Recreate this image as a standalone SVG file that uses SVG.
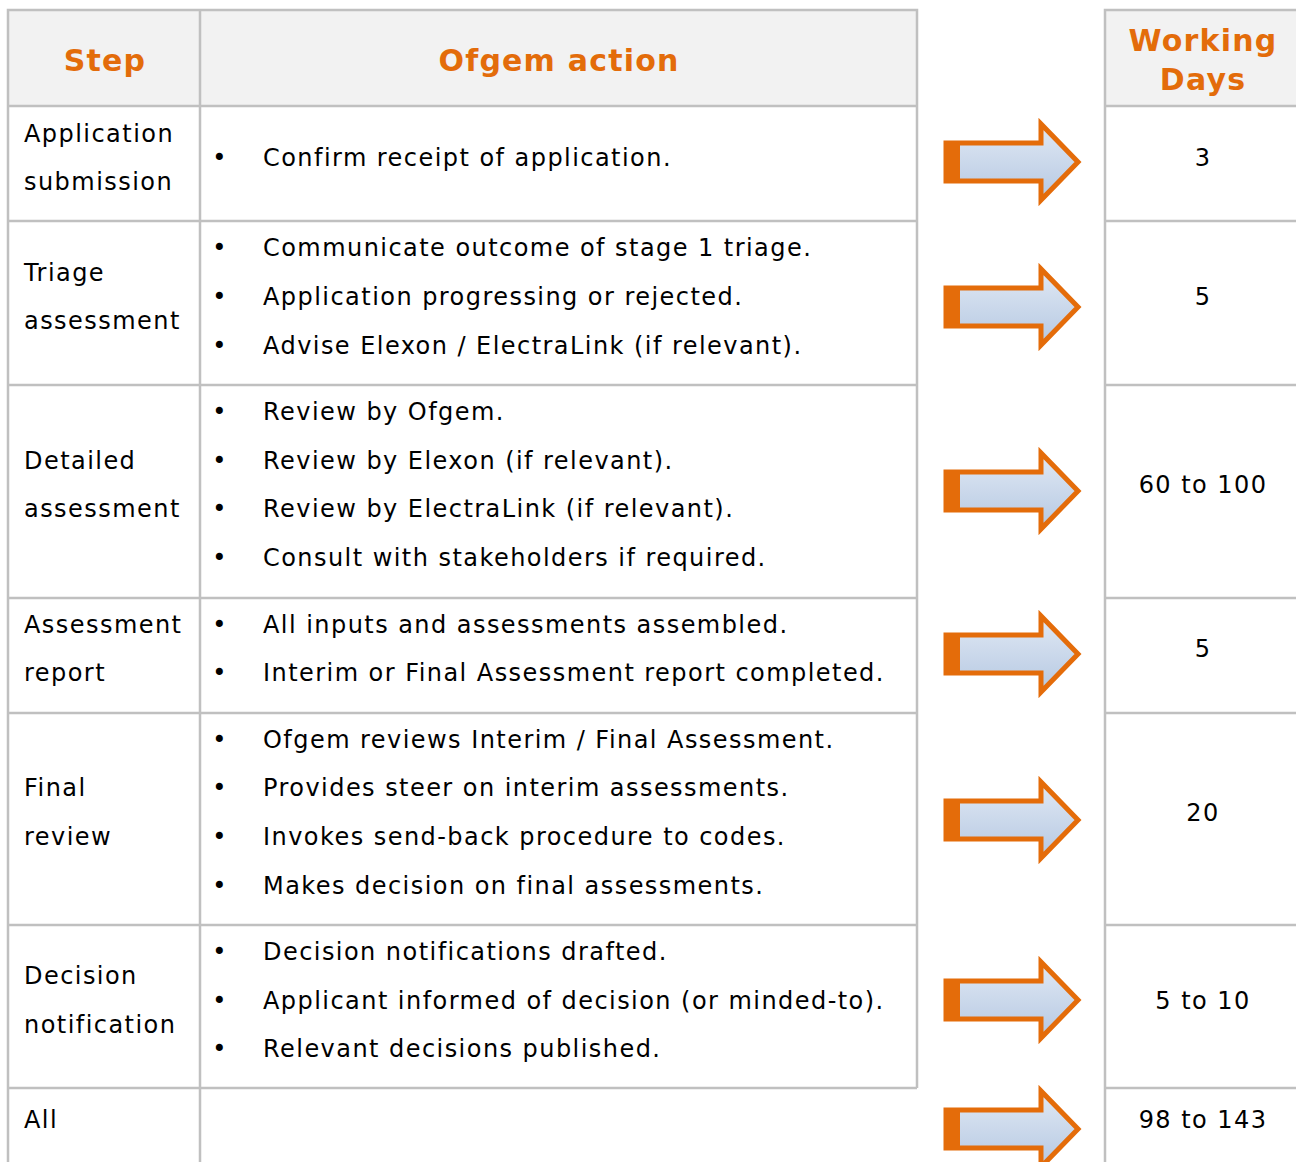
<svg xmlns="http://www.w3.org/2000/svg" width="1296" height="1162" viewBox="0 0 1296 1162">
<style>
.t{font-family:"DejaVu Sans","Liberation Sans",sans-serif;font-size:24px;letter-spacing:1.45px;fill:#000}
.h{font-family:"DejaVu Sans","Liberation Sans",sans-serif;font-size:30px;font-weight:bold;letter-spacing:1.2px;fill:#E36C0A}
.c{text-anchor:middle}
.ln{stroke:#c0c0c0;stroke-width:2.5;fill:none}
</style>
<defs>
<linearGradient id="g" x1="0" y1="0" x2="0" y2="1">
<stop offset="0" stop-color="#e1e9f4"/>
<stop offset="1" stop-color="#b5c8e2"/>
</linearGradient>
<g id="arr">
<path d="M946,-19 H1041 V-38 L1078,0 L1041,38 V19 H946 Z" fill="url(#g)" stroke="#E46C0A" stroke-width="5" stroke-linejoin="miter"/>
<rect x="945" y="-21" width="15" height="42" fill="#E46C0A"/>
</g>
</defs>
<rect width="1296" height="1162" fill="#fff"/>
<g id="header">
<rect x="8" y="10" width="909" height="96" fill="#f2f2f2"/>
<rect x="1105" y="10" width="195" height="96" fill="#f2f2f2"/>
<text class="h c" x="105" y="71">Step</text>
<text class="h c" x="559" y="71">Ofgem action</text>
<text class="h c" x="1203" y="51">Working</text>
<text class="h c" x="1203" y="90">Days</text>
</g>
<g id="grid">
<path class="ln" d="M8,1162 V10 H917 V1088 M200,10 V1162 M8,106 H917 M8,221 H917 M8,385 H917 M8,598 H917 M8,713 H917 M8,925 H917 M8,1088 H917"/>
<path class="ln" d="M1105,1162 V10 H1300 M1105,106 H1300 M1105,221 H1300 M1105,385 H1300 M1105,598 H1300 M1105,713 H1300 M1105,925 H1300 M1105,1088 H1300"/>
</g>
<g id="row1">
<text class="t" x="24" y="142">Application</text>
<text class="t" x="24" y="190">submission</text>
<text class="t c" x="220" y="166">•</text>
<text class="t" x="263" y="166">Confirm receipt of application.</text>
<text class="t c" x="1203" y="166">3</text>
</g>
<g id="row2">
<text class="t" x="24" y="281">Triage</text>
<text class="t" x="24" y="329">assessment</text>
<text class="t c" x="220" y="256">•</text>
<text class="t" x="263" y="256">Communicate outcome of stage 1 triage.</text>
<text class="t c" x="220" y="305">•</text>
<text class="t" x="263" y="305">Application progressing or rejected.</text>
<text class="t c" x="220" y="354">•</text>
<text class="t" x="263" y="354">Advise Elexon / ElectraLink (if relevant).</text>
<text class="t c" x="1203" y="305">5</text>
</g>
<g id="row3">
<text class="t" x="24" y="469">Detailed</text>
<text class="t" x="24" y="517">assessment</text>
<text class="t c" x="220" y="420">•</text>
<text class="t" x="263" y="420">Review by Ofgem.</text>
<text class="t c" x="220" y="469">•</text>
<text class="t" x="263" y="469">Review by Elexon (if relevant).</text>
<text class="t c" x="220" y="517">•</text>
<text class="t" x="263" y="517">Review by ElectraLink (if relevant).</text>
<text class="t c" x="220" y="566">•</text>
<text class="t" x="263" y="566">Consult with stakeholders if required.</text>
<text class="t c" x="1203" y="493">60 to 100</text>
</g>
<g id="row4">
<text class="t" x="24" y="633">Assessment</text>
<text class="t" x="24" y="681">report</text>
<text class="t c" x="220" y="633">•</text>
<text class="t" x="263" y="633">All inputs and assessments assembled.</text>
<text class="t c" x="220" y="681">•</text>
<text class="t" x="263" y="681">Interim or Final Assessment report completed.</text>
<text class="t c" x="1203" y="657">5</text>
</g>
<g id="row5">
<text class="t" x="24" y="796">Final</text>
<text class="t" x="24" y="845">review</text>
<text class="t c" x="220" y="748">•</text>
<text class="t" x="263" y="748">Ofgem reviews Interim / Final Assessment.</text>
<text class="t c" x="220" y="796">•</text>
<text class="t" x="263" y="796">Provides steer on interim assessments.</text>
<text class="t c" x="220" y="845">•</text>
<text class="t" x="263" y="845">Invokes send-back procedure to codes.</text>
<text class="t c" x="220" y="894">•</text>
<text class="t" x="263" y="894">Makes decision on final assessments.</text>
<text class="t c" x="1203" y="821">20</text>
</g>
<g id="row6">
<text class="t" x="24" y="984">Decision</text>
<text class="t" x="24" y="1033">notification</text>
<text class="t c" x="220" y="960">•</text>
<text class="t" x="263" y="960">Decision notifications drafted.</text>
<text class="t c" x="220" y="1009">•</text>
<text class="t" x="263" y="1009">Applicant informed of decision (or minded-to).</text>
<text class="t c" x="220" y="1057">•</text>
<text class="t" x="263" y="1057">Relevant decisions published.</text>
<text class="t c" x="1203" y="1009">5 to 10</text>
</g>
<g id="row7">
<text class="t" x="24" y="1128">All</text>
<text class="t c" x="1203" y="1128">98 to 143</text>
</g>
<g id="connectors">
<use href="#arr" transform="translate(0,162)"/>
<use href="#arr" transform="translate(0,307)"/>
<use href="#arr" transform="translate(0,491)"/>
<use href="#arr" transform="translate(0,654)"/>
<use href="#arr" transform="translate(0,820)"/>
<use href="#arr" transform="translate(0,1000)"/>
<use href="#arr" transform="translate(0,1129)"/>
</g>
</svg>
